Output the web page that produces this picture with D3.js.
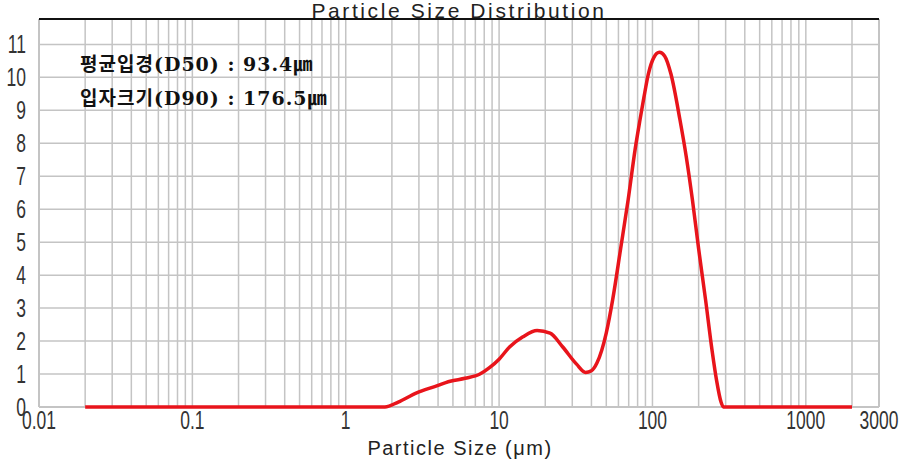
<!DOCTYPE html>
<html><head><meta charset="utf-8">
<script src="https://cdn.jsdelivr.net/npm/d3@7"></script>
<style>body{margin:0;background:#fff}svg{display:block}</style>
</head><body>
<svg id="c" width="910" height="460"></svg>
<script>
const sizes  = [0.02,1.8,2.2,2.9,3.8,4.8,6.0,7.5,8.7,10,11.7,14.3,17.7,21.5,26,32,36.6,40,43.5,50,55,62,69.5,77,83,88,94,102,111,120,132,151,166,182,200,222,245,262,280,290,2000];
const values = [0,0,0.15,0.43,0.62,0.78,0.87,1.0,1.2,1.45,1.82,2.13,2.32,2.24,1.82,1.3,1.05,1.1,1.34,2.25,3.25,4.8,6.3,7.8,8.72,9.4,10.1,10.6,10.76,10.65,10.1,8.72,7.6,6.3,4.8,3.25,1.7,0.8,0.15,0,0];
const xTicks = [0.01,0.1,1,10,100,1000,3000];
const yTicks = [0,1,2,3,4,5,6,7,8,9,10,11];
const titleText = "Particle Size Distribution";
const xTitle = "Particle Size (\u03bcm)";
const notes = ["평균입경(D50) : 93.4㎛", "입자크기(D90) : 176.5㎛"];

const svg = d3.select("#c");
const L=39, R=879, T=19, B=407;
const x = d3.scaleLog().domain([0.01,3000]).range([L,R]);
const y = d3.scaleLinear().domain([0,11.77]).range([B,T]);
const gridC = "#c4c4c4";

const vgrid = [];
for (let e=-2; e<=3; e++) for (let m=1; m<=9; m++) { const v=m*Math.pow(10,e); if (v>0.01 && v<3000) vgrid.push(v); }
svg.append("g").selectAll("line").data(vgrid).join("line")
  .attr("x1",d=>x(d)).attr("x2",d=>x(d)).attr("y1",T).attr("y2",B)
  .attr("stroke",gridC).attr("stroke-width",1.5);
svg.append("g").selectAll("line").data(yTicks.filter(d=>d>0)).join("line")
  .attr("x1",L).attr("x2",R).attr("y1",d=>y(d)).attr("y2",d=>y(d))
  .attr("stroke",gridC).attr("stroke-width",1.5);
svg.append("line").attr("x1",L).attr("x2",L).attr("y1",T).attr("y2",B).attr("stroke",gridC).attr("stroke-width",2);
svg.append("line").attr("x1",R).attr("x2",R).attr("y1",T).attr("y2",B).attr("stroke",gridC).attr("stroke-width",2);
svg.append("line").attr("x1",L).attr("x2",R).attr("y1",B).attr("y2",B).attr("stroke",gridC).attr("stroke-width",2);
svg.append("line").attr("x1",L).attr("x2",R).attr("y1",T).attr("y2",T).attr("stroke","#111").attr("stroke-width",2);

const numFont = "'Liberation Sans',sans-serif";
const sx = 0.7;
svg.append("g").selectAll("text").data(yTicks).join("text")
  .attr("transform",d=>`translate(26,${y(d)+9}) scale(${sx},1)`).attr("text-anchor","end")
  .attr("font-family",numFont).attr("font-size",25).attr("fill","#333")
  .text(d=>d);
svg.append("g").selectAll("text").data(xTicks).join("text")
  .attr("transform",d=>`translate(${x(d)},429) scale(${sx},1)`).attr("text-anchor","middle")
  .attr("font-family",numFont).attr("font-size",25).attr("fill","#333")
  .text(d=>d);
svg.append("text").attr("x",459).attr("y",18).attr("text-anchor","middle")
  .attr("font-family","'Liberation Sans',sans-serif").attr("font-size",21).attr("letter-spacing",2.6)
  .attr("fill","#222").text(titleText);
svg.append("text").attr("x",460).attr("y",455).attr("text-anchor","middle")
  .attr("font-family","'Liberation Sans',sans-serif").attr("font-size",20).attr("letter-spacing",1.5)
  .attr("fill","#222").text(xTitle);
svg.append("g").selectAll("text").data(notes).join("text")
  .attr("x",80).attr("y",(d,i)=>71+i*34)
  .attr("font-family","'DejaVu Serif','Noto Sans CJK KR',serif").attr("font-weight","bold")
  .attr("font-size",19).attr("letter-spacing",1).attr("fill","#111").text(d=>d);

const line = d3.line().x((d,i)=>x(sizes[i])).y((d,i)=>y(values[i])).curve(d3.curveMonotoneX);
svg.append("path").datum(values).attr("d",line).attr("fill","none")
  .attr("stroke","#e8141b").attr("stroke-width",3.5).attr("stroke-linejoin","round");
</script>
</body></html>
